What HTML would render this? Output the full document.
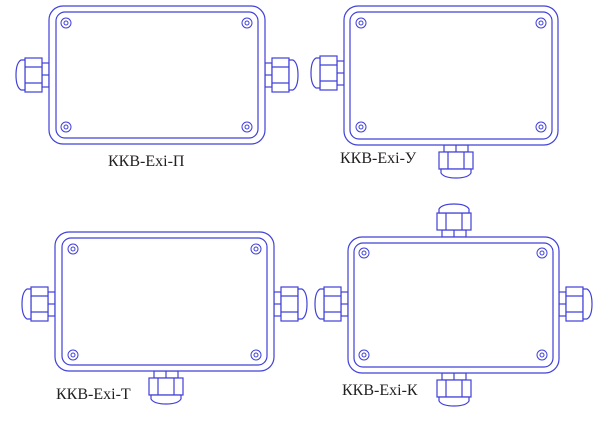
<!DOCTYPE html>
<html><head><meta charset="utf-8"><style>
html,body{margin:0;padding:0;background:#fff;width:600px;height:424px;overflow:hidden}
svg{display:block}
</style></head><body>
<svg width="600" height="424" viewBox="0 0 600 424" xmlns="http://www.w3.org/2000/svg">
<defs>
<g id="g" fill="#fff" stroke="#4040d8" stroke-width="1.2">
<rect x="-7" y="-12" width="7" height="24"/>
<line x1="-7" y1="0" x2="0" y2="0"/>
<rect x="-24" y="-17" width="17" height="34"/>
<line x1="-24" y1="-8" x2="-7" y2="-8"/>
<line x1="-24" y1="8" x2="-7" y2="8"/>
<path d="M-24,-15 L-28,-15 Q-33,-12 -33,0 Q-33,12 -28,15 L-24,15 Z"/>
</g>
<g id="s" fill="none" stroke="#4040d8" stroke-width="1"><circle r="5"/><circle r="2"/></g>
</defs>
<g fill="none" stroke="#4040d8" stroke-width="1.2">
<use href="#g" transform="translate(49,75)"/>
<use href="#g" transform="translate(265,75) scale(-1,1)"/>
<rect x="49" y="6" width="216" height="138" rx="14" fill="#fff"/>
<rect x="56" y="12" width="202" height="126" rx="9"/>
<use href="#g" transform="translate(344,73)"/>
<use href="#g" transform="translate(456,145) rotate(-90)"/>
<rect x="344" y="6" width="214" height="139" rx="14" fill="#fff"/>
<rect x="350" y="12" width="202" height="127" rx="9"/>
<use href="#g" transform="translate(55,304)"/>
<use href="#g" transform="translate(274,304) scale(-1,1)"/>
<use href="#g" transform="translate(166,371) rotate(-90)"/>
<rect x="55" y="232" width="219" height="139" rx="14" fill="#fff"/>
<rect x="62" y="238" width="205" height="127" rx="9"/>
<use href="#g" transform="translate(348,304)"/>
<use href="#g" transform="translate(559,304) scale(-1,1)"/>
<use href="#g" transform="translate(454,373) rotate(-90)"/>
<use href="#g" transform="translate(454,237) rotate(90)"/>
<rect x="348" y="237" width="211" height="136" rx="14" fill="#fff"/>
<rect x="354" y="243" width="199" height="124" rx="9"/>
</g>
<use href="#s" x="66" y="23"/><use href="#s" x="247" y="23"/><use href="#s" x="66" y="127"/><use href="#s" x="247" y="127"/>
<use href="#s" x="361" y="23"/><use href="#s" x="541" y="23"/><use href="#s" x="361" y="127"/><use href="#s" x="541" y="127"/>
<use href="#s" x="73" y="249"/><use href="#s" x="256" y="249"/><use href="#s" x="73" y="355"/><use href="#s" x="256" y="355"/>
<use href="#s" x="364" y="253"/><use href="#s" x="542" y="253"/><use href="#s" x="364" y="355"/><use href="#s" x="542" y="355"/>
<g font-family="'Liberation Serif', 'DejaVu Serif', serif" font-size="16" fill="#222">
<text x="108" y="166">ККВ-Exi-П</text>
<text x="340" y="163">ККВ-Exi-У</text>
<text x="56" y="399">ККВ-Exi-Т</text>
<text x="342" y="395">ККВ-Exi-К</text>
</g>
</svg>
</body></html>
